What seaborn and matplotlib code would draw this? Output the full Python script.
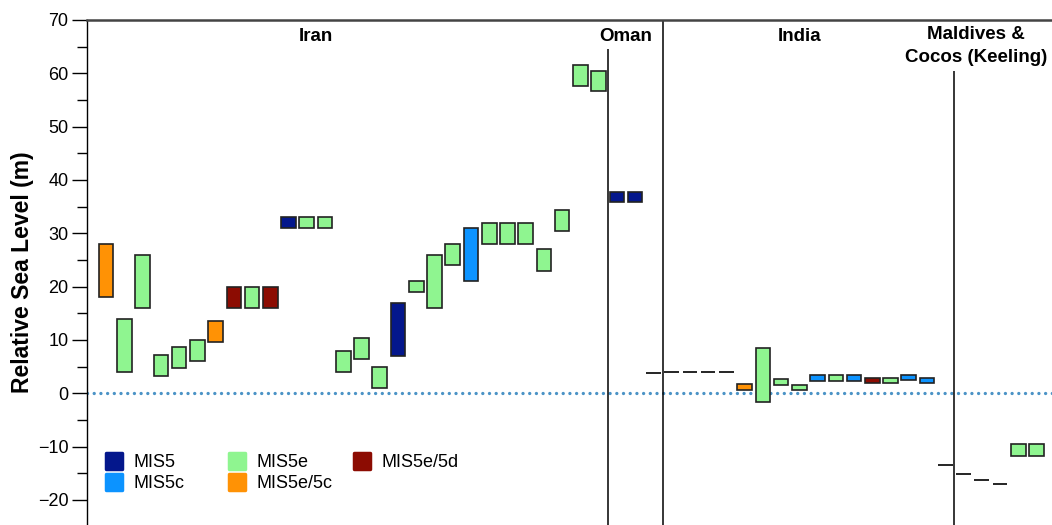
import numpy as np
import seaborn as sns
import matplotlib.pyplot as plt
from matplotlib.lines import Line2D
from matplotlib.markers import MarkerStyle

# sea level ranges per site, in plot order (dash = single value, lo == hi)
iran_lo = [18, 4, 16, 3.3, 4.8, 6.1, 9.7, 16, 16, 16, 31, 31, 31, 4, 6.4, 0.9,
           7, 19, 16, 24, 21, 28, 28, 28, 23, 30.4, 57.6, 56.6]
iran_hi = [28, 14, 26, 7.2, 8.6, 10, 13.5, 20, 20, 20, 33, 33, 33, 8, 10.4, 5,
           17, 21, 26, 28, 31, 32, 32, 32, 27, 34.4, 61.5, 60.5]
iran_mis = ["MIS5e/5c", "MIS5e", "MIS5e", "MIS5e", "MIS5e", "MIS5e", "MIS5e/5c",
            "MIS5e/5d", "MIS5e", "MIS5e/5d", "MIS5", "MIS5e", "MIS5e", "MIS5e",
            "MIS5e", "MIS5e", "MIS5", "MIS5e", "MIS5e", "MIS5e", "MIS5c", "MIS5e",
            "MIS5e", "MIS5e", "MIS5e", "MIS5e", "MIS5e", "MIS5e"]

oman_lo = [35.8, 35.8, 3.75]
oman_hi = [37.7, 37.7, 3.75]
oman_mis = ["MIS5", "MIS5", None]

india_lo = [4.0, 4.0, 4.0, 4.0, 0.6, -1.6, 1.6, 0.55, 2.3, 2.3, 2.3, 1.9, 1.9, 2.4, 1.9, -13.4]
india_hi = [4.0, 4.0, 4.0, 4.0, 1.7, 8.4, 2.6, 1.6, 3.4, 3.4, 3.4, 2.9, 2.8, 3.4, 2.9, -13.4]
india_mis = [None, None, None, None, "MIS5e/5c", "MIS5e", "MIS5e", "MIS5e", "MIS5c",
             "MIS5e", "MIS5c", "MIS5e/5d", "MIS5e", "MIS5c", "MIS5c", None]

maldives_lo = [-15.1, -16.3, -17.0, -11.7, -11.7]
maldives_hi = [-15.1, -16.3, -17.0, -9.5, -9.5]
maldives_mis = [None, None, None, "MIS5e", "MIS5e"]

regions = ["Iran", "Oman", "India", "Maldives &\nCocos (Keeling)"]
categories = ["MIS5", "MIS5c", "MIS5e", "MIS5e/5c", "MIS5e/5d"]
palette = {"MIS5": "#04178c", "MIS5c": "#0c93ff", "MIS5e": "#8ff590",
           "MIS5e/5c": "#ff9205", "MIS5e/5d": "#8c0c02"}

lo = np.array(iran_lo + oman_lo + india_lo + maldives_lo, dtype=float)
hi = np.array(iran_hi + oman_hi + india_hi + maldives_hi, dtype=float)
mis = iran_mis + oman_mis + india_mis + maldives_mis
x = np.arange(len(lo))
counts = [len(iran_lo), len(oman_lo), len(india_lo), len(maldives_lo)]
edges = np.cumsum(counts) - 0.5

sns.set_style("ticks", {"text.color": "black", "axes.labelcolor": "black",
                        "ytick.color": "black", "xtick.color": "black"})
plt.rcParams["font.family"] = ["Liberation Sans", "DejaVu Sans"]

fig = plt.figure(figsize=(10.52, 5.25), dpi=100)
ax = fig.add_axes([0.083, 0.0, 0.917, 0.962])

# boxes
is_box = np.array([m is not None for m in mis])
for cat in categories:
    sel = np.array([m == cat for m in mis])
    ax.bar(x[sel], hi[sel] - lo[sel], bottom=lo[sel], width=0.8,
           color=palette[cat], edgecolor="#222222", linewidth=1.2, zorder=3)

# single-value markers
ax.hlines(lo[~is_box], x[~is_box] - 0.4, x[~is_box] + 0.4,
          color="black", linewidth=1.2, zorder=3)

# zero line
ax.axhline(0, color="#4b93c6", linewidth=2.4, linestyle=(0, (0.01, 2.0)),
           dash_capstyle="round", zorder=2)

# region dividers
ax.vlines(edges[0], -30, 64.5, color="black", linewidth=1.1)
ax.vlines(edges[1], -30, 70, color="black", linewidth=1.1)
ax.vlines(edges[2], -30, 60.5, color="black", linewidth=1.1)

# region labels
label_x = [11.5, 28.5, 38.0, 47.7]
label_y = [68.5, 68.5, 68.5, 68.9]
for name, lx, ly in zip(regions, label_x, label_y):
    ax.text(lx, ly, name, ha="center", va="top", fontsize=13.5,
            fontweight="bold", linespacing=1.45)

ax.set_xlim(-1.03, 51.85)
ax.set_ylim(-24.7, 70)
ax.set_yticks(np.arange(-20, 71, 10))
ax.set_yticks(np.arange(-20, 71, 5), minor=True)
ax.set_yticklabels([str(v).replace("-", "\u2212") for v in range(-20, 71, 10)])
ax.set_xticks([])
ax.tick_params(axis="y", which="major", length=11, width=1, labelsize=13, pad=2.5)
ax.tick_params(axis="y", which="minor", length=7, width=1)
ax.set_ylabel("Relative Sea Level (m)", fontsize=16.5, fontweight="bold", labelpad=3)

ax.spines["top"].set_color("#444444")
ax.spines["top"].set_linewidth(1.8)
ax.spines["left"].set_color("black")
ax.spines["left"].set_linewidth(1.0)
ax.spines["right"].set_visible(False)
ax.spines["bottom"].set_visible(False)

handles = {c: Line2D([], [], linestyle="none",
                     marker=MarkerStyle("s", joinstyle="round"),
                     markersize=12, markerfacecolor=palette[c],
                     markeredgecolor=palette[c], markeredgewidth=2.5)
           for c in categories}
# one legend per column, evenly spaced like the original
legend_cols = [["MIS5", "MIS5c"], ["MIS5e", "MIS5e/5c"], ["MIS5e/5d"]]
col_x = [0.091, 0.208, 0.327]
for cols, cx in zip(legend_cols, col_x):
    fig.legend([handles[c] for c in cols], cols, frameon=False, fontsize=13,
               loc="upper left", bbox_to_anchor=(cx, 0.152),
               handlelength=1.0, handletextpad=0.6,
               labelspacing=0.2, borderpad=0)

fig.savefig("out.png", dpi=100)
